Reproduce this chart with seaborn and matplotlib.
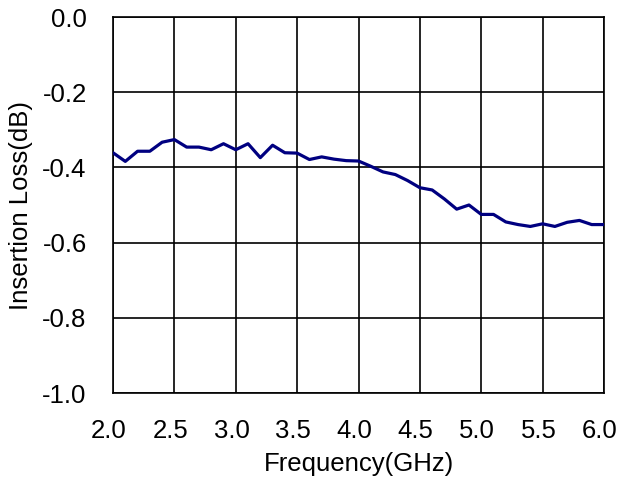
import matplotlib
matplotlib.use("Agg")
import matplotlib.pyplot as plt
import matplotlib.transforms as mtransforms
import seaborn as sns
import pandas as pd

# Frequency points (GHz) and measured insertion loss (dB)
freq_ghz = [2.0, 2.1, 2.2, 2.3, 2.4, 2.5, 2.6, 2.7, 2.8, 2.9,
            3.0, 3.1, 3.2, 3.3, 3.4, 3.5, 3.6, 3.7, 3.8, 3.9,
            4.0, 4.1, 4.2, 4.3, 4.4, 4.5, 4.6, 4.7, 4.8, 4.9,
            5.0, 5.1, 5.2, 5.3, 5.4, 5.5, 5.6, 5.7, 5.8, 5.9, 6.0]
loss_db = [-0.361, -0.384, -0.357, -0.357, -0.333, -0.326, -0.346, -0.346, -0.353, -0.337,
           -0.353, -0.337, -0.374, -0.341, -0.361, -0.362, -0.379, -0.372, -0.378, -0.382,
           -0.383, -0.397, -0.412, -0.419, -0.435, -0.454, -0.460, -0.484, -0.511, -0.500,
           -0.525, -0.525, -0.545, -0.552, -0.557, -0.550, -0.557, -0.546, -0.541, -0.552, -0.552]

x_ticks = [2.0, 2.5, 3.0, 3.5, 4.0, 4.5, 5.0, 5.5, 6.0]
y_ticks = [0.0, -0.2, -0.4, -0.6, -0.8, -1.0]

df = pd.DataFrame({"freq": freq_ghz, "loss": loss_db})

sns.set_style("white")
plt.rcParams['font.family'] = ['Liberation Sans', 'DejaVu Sans']
plt.rcParams['text.color'] = 'black'
plt.rcParams['axes.labelcolor'] = 'black'
plt.rcParams['xtick.color'] = 'black'
plt.rcParams['ytick.color'] = 'black'

fig = plt.figure(figsize=(6.21, 4.79), dpi=100)
ax = fig.add_axes([0.182, 0.1795, 0.7906, 0.785])

sns.lineplot(data=df, x="freq", y="loss", ax=ax, color="#000080",
             linewidth=2.3, zorder=3)

ax.set_xlim(2.0, 6.0)
ax.set_ylim(-1.0, 0.0)
ax.set_xticks(x_ticks)
ax.set_xticklabels([f"{t:.1f}" for t in x_ticks])
ax.set_yticks(y_ticks)
ax.set_yticklabels([f"{t:.1f}" for t in y_ticks])
ax.grid(True, color="black", linewidth=1.2)
ax.tick_params(length=0, labelsize=18.5, pad=19)
for s in ax.spines.values():
    s.set_color("black")
    s.set_linewidth(1.2)

# x tick labels sit slightly left of their grid lines, as in the original
shift = mtransforms.ScaledTranslation(-3 / 72, 0, fig.dpi_scale_trans)
for lbl in ax.get_xticklabels():
    lbl.set_transform(lbl.get_transform() + shift)

ax.set_xlabel("Frequency(GHz)", fontsize=18.5, labelpad=6)
ax.set_ylabel("Insertion Loss(dB)", fontsize=18.5, labelpad=7)

fig.savefig("out.png", dpi=100)
